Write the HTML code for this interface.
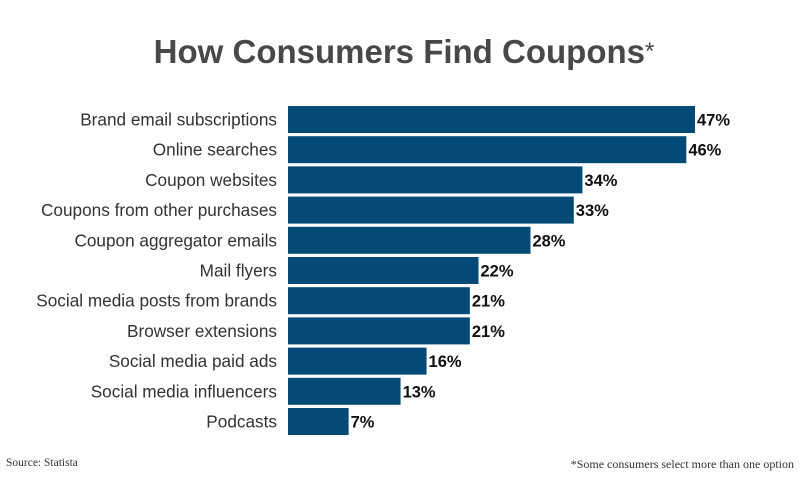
<!DOCTYPE html>
<html><head><meta charset="utf-8"><style>
body{margin:0;background:#fff;}
svg text{font-family:"Liberation Sans",sans-serif;}
</style></head><body>
<svg width="800" height="476" viewBox="0 0 800 476" id="chart">
<text x="404" y="63" text-anchor="middle" font-size="33" font-weight="bold" fill="#484848">How Consumers Find Coupons<tspan font-size="24" font-weight="normal" dy="-4">*</tspan></text>
<g id="bars"></g>
<text x="6" y="466" font-size="11.5" fill="#333" style="font-family:'Liberation Serif',serif">Source: Statista</text>
<text x="794" y="468" text-anchor="end" font-size="12" fill="#333" style="font-family:'Liberation Serif',serif">*Some consumers select more than one option</text>
</svg>
<script>
const categories=["Brand email subscriptions","Online searches","Coupon websites","Coupons from other purchases","Coupon aggregator emails","Mail flyers","Social media posts from brands","Browser extensions","Social media paid ads","Social media influencers","Podcasts"];
const values=[47,46,34,33,28,22,21,21,16,13,7];
const labels=["47%","46%","34%","33%","28%","22%","21%","21%","16%","13%","7%"];
const NS="http://www.w3.org/2000/svg";
const x0=288,pxPer=407/47,top0=106,pitch=30.2,bh=27;
const xScale=v=>v*pxPer;
const yScale=i=>top0+i*pitch;
const g=document.getElementById('bars');
categories.forEach((c,i)=>{
  const y=yScale(i),w=xScale(values[i]);
  const r=document.createElementNS(NS,'rect');
  r.setAttribute('x',x0);r.setAttribute('y',y);r.setAttribute('width',w);r.setAttribute('height',bh);r.setAttribute('fill','#034a76');
  
  
  g.appendChild(r);
  const t=document.createElementNS(NS,'text');
  t.setAttribute('x',277);t.setAttribute('y',y+bh/2+6);t.setAttribute('text-anchor','end');t.setAttribute('font-size','17.2');t.setAttribute('fill','#333');
  t.textContent=c;
  
  
  g.appendChild(t);
  const v=document.createElementNS(NS,'text');
  v.setAttribute('x',x0+w+2);v.setAttribute('y',y+bh/2+6);v.setAttribute('font-size','16.5');v.setAttribute('font-weight','bold');v.setAttribute('fill','#111');
  v.textContent=labels[i];
  
  
  g.appendChild(v);
});
</script>
</body></html>
